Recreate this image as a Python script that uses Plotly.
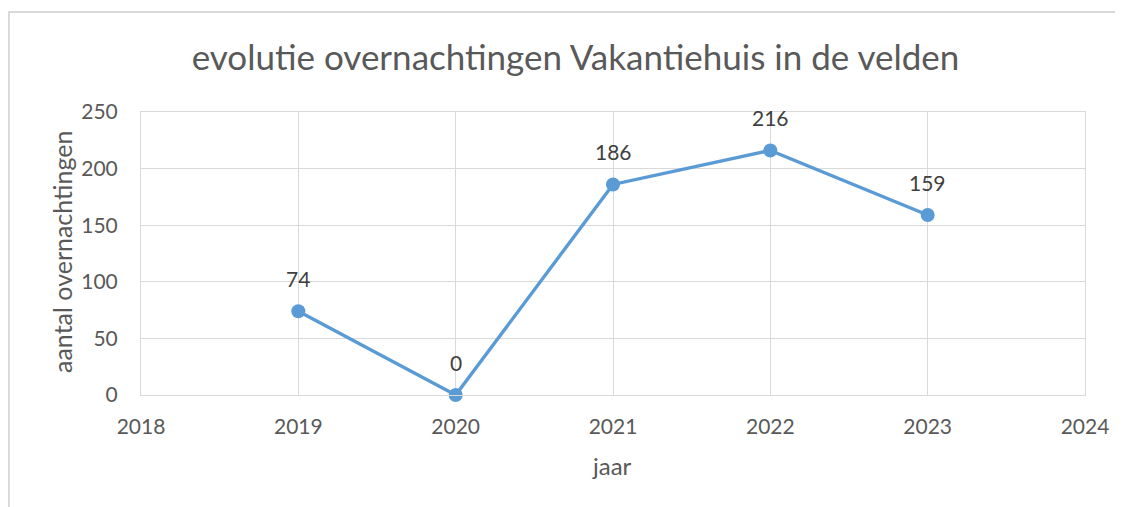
import plotly.graph_objects as go

years = [2019, 2020, 2021, 2022, 2023]
overnachtingen = [74, 0, 186, 216, 159]
title = "evolutie overnachtingen Vakantiehuis in de velden"
x_title = "jaar"
y_title = "aantal overnachtingen"

FONT = "Lato, Calibri, sans-serif"
GRID = "#d9d9d9"
TXT = "#595959"
BLUE = "#5B9BD5"

# page has an 8px body margin; figure coordinates below are page coords minus 8
W, H = 1115, 499
L, T = 133, 104
R = W - 1077
B = H - 387
pw, ph = W - L - R, H - T - B

def px(xp):
    return (xp - L) / pw

def py(yp):
    return (H - B - yp) / ph

fig = go.Figure()
fig.add_trace(go.Scatter(
    x=years, y=overnachtingen, mode="lines+markers",
    line=dict(color=BLUE, width=3.4),
    marker=dict(color=BLUE, size=14),
    cliponaxis=False, showlegend=False,
))
for xv, yv in zip(years, overnachtingen):
    fig.add_annotation(x=xv, y=yv, text=str(yv), showarrow=False,
                       yshift=33, font=dict(family=FONT, size=21, color="#404040"))

# axis titles
fig.add_annotation(xref="paper", yref="paper", x=px(54), y=py(244), text=y_title,
                   textangle=-90, showarrow=False, xanchor="center", yanchor="middle",
                   font=dict(family=FONT, size=25, color=TXT))
fig.add_annotation(xref="paper", yref="paper", x=px(604), y=py(457), text=x_title,
                   showarrow=False, xanchor="center", yanchor="middle",
                   font=dict(family=FONT, size=24, color=TXT))

# chart frame
fig.add_shape(type="rect", xref="paper", yref="paper",
              x0=px(1), x1=px(1140), y0=py(530), y1=py(4),
              line=dict(color="#d9d9d9", width=2), fillcolor="rgba(0,0,0,0)", layer="below")

fig.update_layout(
    width=W, height=H,
    margin=dict(l=L, r=R, t=T, b=B, autoexpand=False),
    paper_bgcolor="white", plot_bgcolor="white",
    title=dict(text=title, x=567.5 / W, xanchor="center", y=1 - 50 / H, yanchor="middle",
               font=dict(family=FONT, size=35, color=TXT)),
    xaxis=dict(range=[2018, 2024], tickmode="linear", tick0=2018, dtick=1,
               showgrid=True, gridcolor=GRID, gridwidth=1,
               showline=True, linecolor=GRID, linewidth=1, mirror=True,
               zeroline=False, ticks="", ticklen=0, ticklabelstandoff=13,
               tickfont=dict(family=FONT, size=21, color=TXT), automargin=False),
    yaxis=dict(range=[0, 250], tickmode="linear", tick0=0, dtick=50,
               showgrid=True, gridcolor=GRID, gridwidth=1,
               showline=True, linecolor=GRID, linewidth=1, mirror=True,
               zeroline=False, ticks="", ticklen=0, ticklabelstandoff=18,
               tickfont=dict(family=FONT, size=21, color=TXT), automargin=False),
)

fig.write_html("out.html")
